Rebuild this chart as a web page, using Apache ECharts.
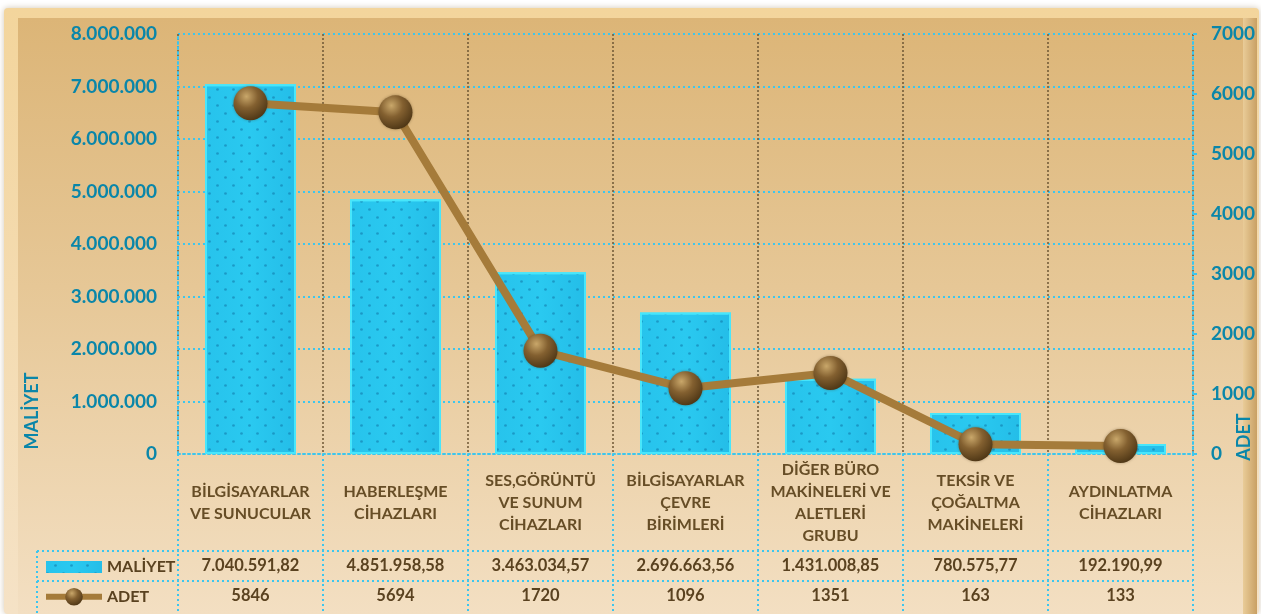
<!DOCTYPE html>
<html>
<head>
<meta charset="utf-8">
<script src="https://cdn.jsdelivr.net/npm/echarts@6/dist/echarts.min.js"></script>
<style>
  html, body { margin: 0; padding: 0; background: #fff; }
  #chart { width: 1261px; height: 614px; }
</style>
</head>
<body>
<div id="chart"></div>
<script>
// kategoriler ve değerler
var categories = [
  'BİLGİSAYARLAR\nVE SUNUCULAR',
  'HABERLEŞME\nCİHAZLARI',
  'SES,GÖRÜNTÜ\nVE SUNUM\nCİHAZLARI',
  'BİLGİSAYARLAR\nÇEVRE\nBİRİMLERİ',
  'DİĞER BÜRO\nMAKİNELERİ VE\nALETLERİ\nGRUBU',
  'TEKSİR VE\nÇOĞALTMA\nMAKİNELERİ',
  'AYDINLATMA\nCİHAZLARI'
]
var maliyet = [7040591.82, 4851958.58, 3463034.57, 2696663.56, 1431008.85, 780575.77, 192190.99]
var adet = [5846, 5694, 1720, 1096, 1351, 163, 133]

var tealText = '#0a86a9'
var brownText = '#5a4220'
var cyanLine = '#3cc6ee'
var font = 'Lato, "Open Sans", sans-serif'

// 1.234.567,89 biçimi
function trNum(v, dec) {
  var s = v.toFixed(dec)
  var parts = s.split('.')
  var int = parts[0].replace(/\B(?=(\d{3})+(?!\d))/g, '.')
  return parts.length > 1 ? int + ',' + parts[1] : int
}

var chart = echarts.init(document.getElementById('chart'))

var W = 1261
var H = 614
var gridLeft = 178
var gridRight = 68
var plotBottom = 454

chart.setOption({
  backgroundColor: '#ffffff',
  textStyle: { fontFamily: font },
  graphic: [
    {
      type: 'rect', z: -20, silent: true,
      shape: { x: 4, y: 8, width: W - 6, height: H - 8, r: 4 },
      style: {
        fill: new echarts.graphic.LinearGradient(0, 0, 0, 1, [
          { offset: 0, color: '#f3d59c' },
          { offset: 1, color: '#f5e2c6' }
        ]),
        shadowBlur: 6, shadowColor: 'rgba(120,90,40,0.35)'
      }
    },
    {
      type: 'rect', z: -19, silent: true,
      shape: { x: 18, y: 18, width: W - 34, height: H - 18 },
      style: {
        fill: new echarts.graphic.LinearGradient(0, 0, 0, 1, [
          { offset: 0, color: '#dcb577' },
          { offset: 0.45, color: '#e6c796' },
          { offset: 1, color: '#f3dfc2' }
        ])
      }
    },
    {
      type: 'rect', z: -18, silent: true,
      shape: { x: W - 18, y: 18, width: 14, height: H - 18 },
      style: {
        fill: new echarts.graphic.LinearGradient(0, 0, 1, 0, [
          { offset: 0, color: '#e9cc98' },
          { offset: 1, color: '#c9a064' }
        ])
      }
    },
    // tablo çizgileri
    {
      type: 'line', z: 5, silent: true,
      shape: { x1: 37, y1: 551, x2: W - gridRight, y2: 551 },
      style: { stroke: cyanLine, lineWidth: 2, lineDash: [2, 3] }
    },
    {
      type: 'line', z: 5, silent: true,
      shape: { x1: 37, y1: 581, x2: W - gridRight, y2: 581 },
      style: { stroke: cyanLine, lineWidth: 2, lineDash: [2, 3] }
    },
    {
      type: 'line', z: 5, silent: true,
      shape: { x1: 37, y1: 551, x2: 37, y2: 614 },
      style: { stroke: cyanLine, lineWidth: 2, lineDash: [2, 3] }
    },
    // eksen adları
    {
      type: 'text', z: 5, silent: true,
      x: 32, y: 411, rotation: Math.PI / 2,
      style: {
        text: 'MALİYET', fill: tealText, font: 'bold 18px ' + font,
        align: 'center', verticalAlign: 'middle'
      }
    },
    {
      type: 'text', z: 5, silent: true,
      x: 1244, y: 437, rotation: Math.PI / 2,
      style: {
        text: 'ADET', fill: tealText, font: 'bold 18px ' + font,
        align: 'center', verticalAlign: 'middle'
      }
    }
  ],
  legend: {
    orient: 'vertical',
    left: 43,
    top: 559,
    padding: 0,
    itemGap: 13,
    itemWidth: 56,
    itemHeight: 22,
    data: [
      { name: 'MALİYET', icon: 'path://M0,5H56V17H0Z', itemStyle: { borderWidth: 0 } },
      { name: 'ADET', lineStyle: { width: 6 } }
    ],
    textStyle: { color: brownText, fontWeight: 'bold', fontSize: 16, fontFamily: font }
  },
  grid: [
    { left: gridLeft, right: gridRight, top: 34, bottom: H - plotBottom },
    { left: gridLeft, right: gridRight, top: plotBottom, bottom: 0 }
  ],
  xAxis: [
    {
      type: 'category',
      gridIndex: 0,
      data: categories,
      axisLine: { show: true, lineStyle: { color: cyanLine, width: 2, type: [2, 3] } },
      axisTick: { show: false },
      splitLine: { show: true, lineStyle: { color: '#6e5735', width: 1.5, type: [2, 2] } },
      axisLabel: {
        color: '#664d26', fontWeight: 'bold', fontSize: 16, fontFamily: font,
        lineHeight: 22, margin: 49, verticalAlign: 'middle', interval: 0
      }
    },
    {
      type: 'category',
      gridIndex: 0,
      position: 'bottom',
      data: maliyet.map(function (v) { return trNum(v, 2) }),
      axisLine: { show: false },
      axisTick: { show: false },
      axisLabel: {
        color: brownText, fontWeight: 'bold', fontSize: 16.5, fontFamily: font,
        margin: 112, verticalAlign: 'middle', interval: 0
      }
    },
    {
      type: 'category',
      gridIndex: 0,
      position: 'bottom',
      data: adet.map(function (v) { return String(v) }),
      axisLine: { show: false },
      axisTick: { show: false },
      axisLabel: {
        color: brownText, fontWeight: 'bold', fontSize: 16.5, fontFamily: font,
        margin: 142, verticalAlign: 'middle', interval: 0
      }
    },
    {
      type: 'category',
      gridIndex: 1,
      data: categories,
      axisLine: { show: false },
      axisTick: { show: false },
      axisLabel: { show: false },
      splitLine: { show: true, lineStyle: { color: cyanLine, width: 2, type: [2, 3] } }
    }
  ],
  yAxis: [
    {
      type: 'value',
      gridIndex: 0,
      min: 0,
      max: 8000000,
      interval: 1000000,
      axisLine: { show: true, lineStyle: { color: cyanLine, width: 2, type: [2, 3] } },
      axisTick: { show: false },
      splitLine: { show: true, lineStyle: { color: cyanLine, width: 2, type: [2, 3] } },
      axisLabel: {
        color: tealText, fontWeight: 'bold', fontSize: 19, fontFamily: font, margin: 21,
        formatter: function (v) { return trNum(v, 0) }
      }
    },
    {
      type: 'value',
      gridIndex: 0,
      min: 0,
      max: 7000,
      interval: 1000,
      position: 'right',
      axisLine: { show: true, lineStyle: { color: cyanLine, width: 2, type: [2, 3] } },
      axisTick: { show: true, length: 4, lineStyle: { color: cyanLine, width: 2 } },
      splitLine: { show: false },
      axisLabel: {
        color: tealText, fontWeight: 'bold', fontSize: 19, fontFamily: font, margin: 18,
        formatter: function (v) { return String(v) }
      }
    },
    {
      type: 'value',
      gridIndex: 1,
      show: false
    }
  ],
  series: [
    {
      name: 'MALİYET',
      type: 'bar',
      xAxisIndex: 0,
      yAxisIndex: 0,
      barWidth: 91,
      data: maliyet,
      itemStyle: {
        color: new echarts.graphic.LinearGradient(0, 0, 1, 0, [
          { offset: 0, color: '#27c3ec' },
          { offset: 0.5, color: '#2ac9f0' },
          { offset: 1, color: '#24bde8' }
        ]),
        borderColor: '#48e6fb',
        borderWidth: 2,
        decal: {
          symbol: 'circle',
          symbolSize: 0.9,
          color: 'rgba(10, 100, 150, 0.45)',
          dashArrayX: [[0, 8, 3, 5], [3, 13]],
          dashArrayY: [3, 5],
          rotation: 0
        }
      }
    },
    {
      name: 'ADET',
      type: 'line',
      xAxisIndex: 0,
      yAxisIndex: 1,
      data: adet,
      z: 5,
      symbol: 'circle',
      symbolSize: 34,
      lineStyle: { color: '#a57b3a', width: 8 },
      itemStyle: {
        color: new echarts.graphic.RadialGradient(0.38, 0.3, 0.75, [
          { offset: 0, color: '#c9a76a' },
          { offset: 0.45, color: '#836030' },
          { offset: 1, color: '#4b3414' }
        ]),
        borderWidth: 0,
        shadowBlur: 3,
        shadowColor: 'rgba(60,40,10,0.4)'
      }
    }
  ]
})
</script>
</body>
</html>
